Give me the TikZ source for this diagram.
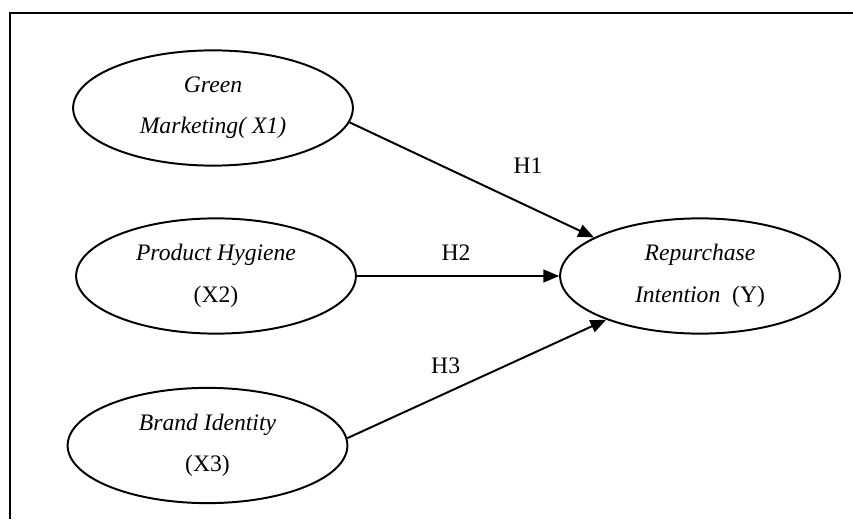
\documentclass[tikz,border=0pt]{standalone}
\usepackage{fontspec}
\setmainfont{Liberation Serif}
\usetikzlibrary{arrows.meta,shapes.geometric}

\begin{document}
\begin{tikzpicture}[x=0.5076pt,y=0.5076pt,>={Triangle[length=8pt,width=6.5pt]},
    every node/.style={font=\fontsize{12}{21}\selectfont},
    latent/.style={ellipse,draw,line width=1pt,minimum width=142pt,minimum height=58.5pt,
      inner sep=0pt,align=center,font=\fontsize{12}{21}\selectfont\itshape,
      execute at begin node={\rule{0pt}{13pt}}}]
    \useasboundingbox (0,0) rectangle (853,519);
    \draw[line width=1.3pt] (10,0) -- (10,506) -- (853,506);

    \node[latent] (gm) at (213,411) {Green\\Marketing( X1)};
    \node[latent] (ph) at (216,243) {Product Hygiene\\\upshape(X2)};
    \node[latent] (bi) at (207.5,73.5) {Brand Identity\\\upshape(X3)};
    \node[latent] (ri) at (700,243) {Repurchase\\Intention~~\upshape(Y)};

    \path[->,line width=1pt]
    (gm.-6) edge node[pos=.73,above=13pt] {H1} (ri.160)
    (ph.east) edge node[pos=.49,above=4pt] {H2} (ri.west)
    (bi.3) edge node[pos=.38,above=6pt] {H3} (ri.205)
    ;
\end{tikzpicture}
\end{document}
